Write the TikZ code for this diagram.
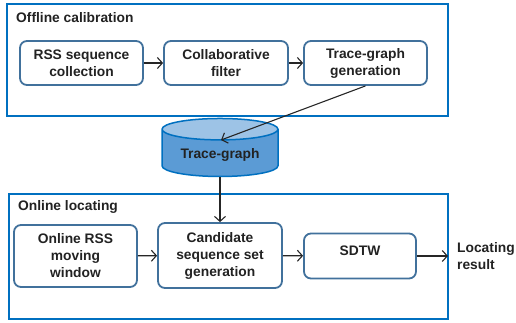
\documentclass[tikz,border=0pt]{standalone}
\usepackage{fontspec}
\setmainfont{Liberation Sans}
\usepackage{xcolor}
\usetikzlibrary{positioning, arrows.meta, shapes}
\definecolor{framec}{HTML}{0070C0}
\definecolor{boxc}{HTML}{41719C}
\definecolor{textc}{HTML}{222222}
\definecolor{cylbody}{HTML}{5B9BD5}
\definecolor{cyltop}{HTML}{9DC3E6}

\begin{document}
\begin{tikzpicture}[x=1pt, y=-1pt, font=\bfseries\fontsize{13.8}{17}\selectfont, text=textc,
  proc/.style={draw=boxc, line width=1.8pt, rounded corners=7pt, align=center, inner sep=0pt},
  frame/.style={draw=framec, line width=2pt},
  link/.style={-{Straight Barb[length=5pt,width=11pt]}, line width=1.1pt, draw=black!85}]
\useasboundingbox (0,0) rectangle (516,322);

% offline part
\draw[frame] (7,4) rectangle (448,116);
\node[anchor=west, inner sep=0pt] (offt) at (16,18) {Offline calibration};
\node[proc, minimum width=123pt, minimum height=44pt] (rss) at (81.5,63) {RSS sequence\\collection};
\node[proc, minimum width=124pt, minimum height=44pt] (cf) at (226,63) {Collaborative\\filter};
\node[proc, minimum width=123pt, minimum height=44pt] (tgg) at (365.5,63) {Trace-graph\\generation};

\node[cylinder, shape border rotate=90, aspect=0.25, minimum width=116pt, minimum height=58pt,
  draw=framec, line width=1.5pt, cylinder uses custom fill, cylinder body fill=cylbody,
  cylinder end fill=cyltop] (tg) at (220,155) {Trace-graph};
\coordinate (tgin) at (221,140);

% online part
\draw[frame] (9,194) rectangle (448,319);
\node[anchor=west, inner sep=0pt] (onlt) at (18,207) {Online locating};
\node[proc, minimum width=123pt, minimum height=62pt] (win) at (75.5,256) {Online RSS\\moving\\window};
\node[proc, minimum width=124pt, minimum height=65pt] (cand) at (220,255.5) {Candidate\\sequence set\\generation};
\node[proc, minimum width=112pt, minimum height=45pt, text depth=10pt] (sdtw) at (360,256) {SDTW};
\node[anchor=west, align=left, inner sep=0pt] (res) at (457,256) {Locating\\result};

\draw[link] (rss) -- (cf);
\draw[link] (cf) -- (tgg);
\draw[link] (tgg.south) -- (tgin);
\draw[link] (tg.bottom) -- (cand.north);
\draw[link] (win) -- (cand);
\draw[link] (cand) -- (sdtw);
\draw[link] (sdtw.east) -- ([xshift=-9pt]res.west);
\end{tikzpicture}
\end{document}
